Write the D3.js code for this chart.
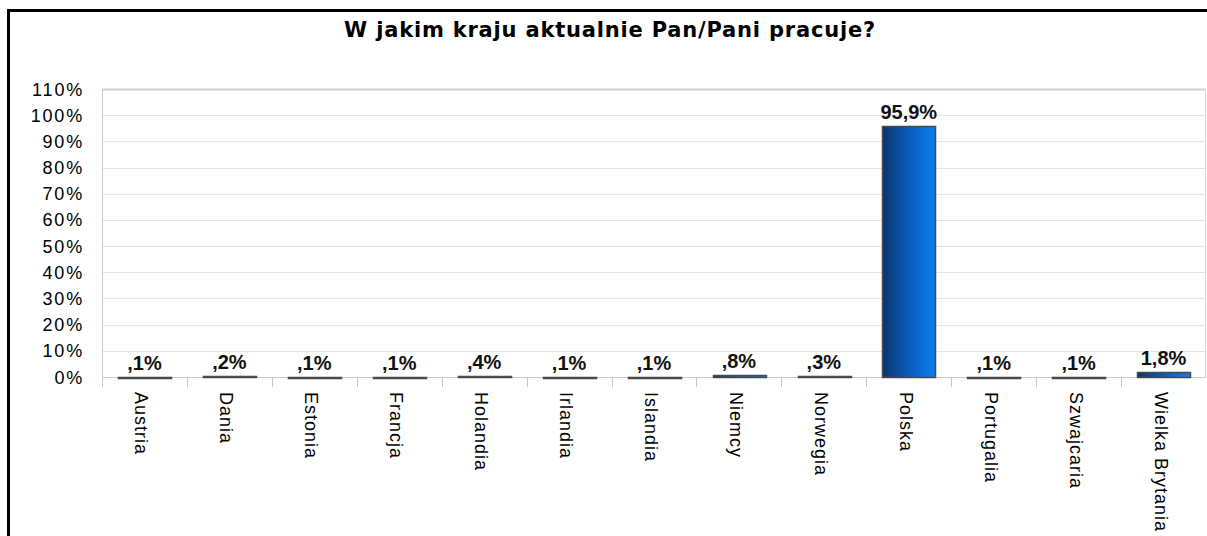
<!DOCTYPE html>
<html>
<head>
<meta charset="utf-8">
<script src="https://cdn.jsdelivr.net/npm/d3@7"></script>
<style>
  body { margin: 0; background: #fff; }
  svg { display: block; }
</style>
</head>
<body>
<svg id="canvas"></svg>
<script>
// survey answers - share of respondents by country of work
let categories = ['Austria', 'Dania', 'Estonia', 'Francja', 'Holandia', 'Irlandia', 'Islandia',
    'Niemcy', 'Norwegia', 'Polska', 'Portugalia', 'Szwajcaria', 'Wielka Brytania'];
let values = [0.1, 0.2, 0.1, 0.1, 0.4, 0.1, 0.1, 0.8, 0.3, 95.9, 0.1, 0.1, 1.8];
let yTicks = [0, 10, 20, 30, 40, 50, 60, 70, 80, 90, 100, 110];
let title = 'W jakim kraju aktualnie Pan/Pani pracuje?';

let width = 1207;
let height = 536;

const canvas = d3.select('#canvas').attr('width', width).attr('height', height);

// outer frame of the chart (runs off the right/bottom of the window)
canvas.append('rect')
    .attr('x', 8.5).attr('y', 10.5)
    .attr('width', 1210).attr('height', 540)
    .attr('fill', '#fff').attr('stroke', '#000').attr('stroke-width', 3);

canvas.append('text')
    .attr('x', 610).attr('y', 37)
    .attr('text-anchor', 'middle')
    .attr('font-family', 'DejaVu Sans')
    .attr('font-weight', 'bold')
    .attr('font-size', 21)
    .attr('letter-spacing', 0.8)
    .attr('fill', '#000')
    .text(title);

const plot = { left: 102, right: 1206, top: 89, bottom: 377 };

const x = d3.scaleBand()
    .domain(categories)
    .range([plot.left, plot.right])
    .paddingInner(0.38)
    .paddingOuter(0.19);

const xb = d3.scaleBand().domain(categories).range([plot.left, plot.right]);

const y = d3.scaleLinear().domain([0, 110]).range([plot.bottom, plot.top]);

const defs = canvas.append('defs');
const grad = defs.append('linearGradient').attr('id', 'barGrad')
    .attr('x1', '0%').attr('x2', '100%').attr('y1', '0%').attr('y2', '0%');
grad.append('stop').attr('offset', '0%').attr('stop-color', '#0a356f');
grad.append('stop').attr('offset', '50%').attr('stop-color', '#0a5cbc');
grad.append('stop').attr('offset', '100%').attr('stop-color', '#0a80f2');

// gridlines
canvas.append('g')
    .selectAll('line')
    .data(yTicks.filter((d) => d > 0))
    .enter()
    .append('line')
    .attr('x1', plot.left).attr('x2', plot.right)
    .attr('y1', (d) => Math.round(y(d)) + 0.5)
    .attr('y2', (d) => Math.round(y(d)) + 0.5)
    .attr('stroke', (d) => (d === 110 ? '#cfcfcf' : '#e4e4e4'))
    .attr('stroke-width', (d) => (d === 110 ? 2 : 1));

// right plot edge
canvas.append('line')
    .attr('x1', plot.right - 0.5).attr('x2', plot.right - 0.5)
    .attr('y1', plot.top).attr('y2', plot.bottom)
    .attr('stroke', '#d8d8d8');

// y axis labels
canvas.append('g')
    .selectAll('text')
    .data(yTicks)
    .enter()
    .append('text')
    .attr('x', 84)
    .attr('y', (d) => y(d) + 6.5)
    .attr('text-anchor', 'end')
    .attr('font-family', 'Liberation Sans')
    .attr('font-size', 18)
    .attr('letter-spacing', 1.8)
    .attr('fill', '#000')
    .text((d) => d + '%');

// y axis line
canvas.append('line')
    .attr('x1', plot.left + 0.5).attr('x2', plot.left + 0.5)
    .attr('y1', plot.top).attr('y2', plot.bottom + 10)
    .attr('stroke', '#c8c8c8');

// x axis line + ticks between categories
canvas.append('line')
    .attr('x1', plot.left).attr('x2', plot.right)
    .attr('y1', plot.bottom + 0.5).attr('y2', plot.bottom + 0.5)
    .attr('stroke', '#c8c8c8');

canvas.append('g')
    .selectAll('line')
    .data(categories.slice(1))
    .enter()
    .append('line')
    .attr('x1', (d) => Math.round(xb(d)) + 0.5)
    .attr('x2', (d) => Math.round(xb(d)) + 0.5)
    .attr('y1', plot.bottom).attr('y2', plot.bottom + 10)
    .attr('stroke', '#c8c8c8');

// bars
canvas.append('g')
    .selectAll('rect')
    .data(values)
    .enter()
    .append('rect')
    .attr('x', (d, i) => Math.round(x(categories[i])) + 0.5)
    .attr('y', (d) => Math.round(y(d)) + 0.5)
    .attr('width', Math.round(x.bandwidth()))
    .attr('height', (d) => Math.max(1, Math.round(plot.bottom - y(d))))
    .attr('fill', 'url(#barGrad)')
    .attr('stroke', '#4a4a4a')
    .attr('stroke-width', 1.5);

// value labels, Polish decimal comma, no leading zero
const fmt = (v) => {
    let s = v.toFixed(1).replace('.', ',');
    if (s.startsWith('0')) s = s.slice(1);
    return s + '%';
};

canvas.append('g')
    .selectAll('text')
    .data(values)
    .enter()
    .append('text')
    .attr('x', (d, i) => x(categories[i]) + x.bandwidth() / 2)
    .attr('y', (d) => y(d) - 7)
    .attr('text-anchor', 'middle')
    .attr('font-family', 'Liberation Sans')
    .attr('font-weight', 'bold')
    .attr('font-size', 20)
    .attr('fill', '#111')
    .text(fmt);

// category labels rotated, reading top to bottom
canvas.append('g')
    .selectAll('text')
    .data(categories)
    .enter()
    .append('text')
    .attr('transform', (d) => `translate(${xb(d) + xb.bandwidth() / 2 - 9},${plot.bottom + 15}) rotate(90)`)
    .attr('text-anchor', 'start')
    .attr('font-family', 'Liberation Sans')
    .attr('font-size', 18)
    .attr('letter-spacing', 1.0)
    .attr('fill', '#000')
    .text((d) => d);
</script>
</body>
</html>
